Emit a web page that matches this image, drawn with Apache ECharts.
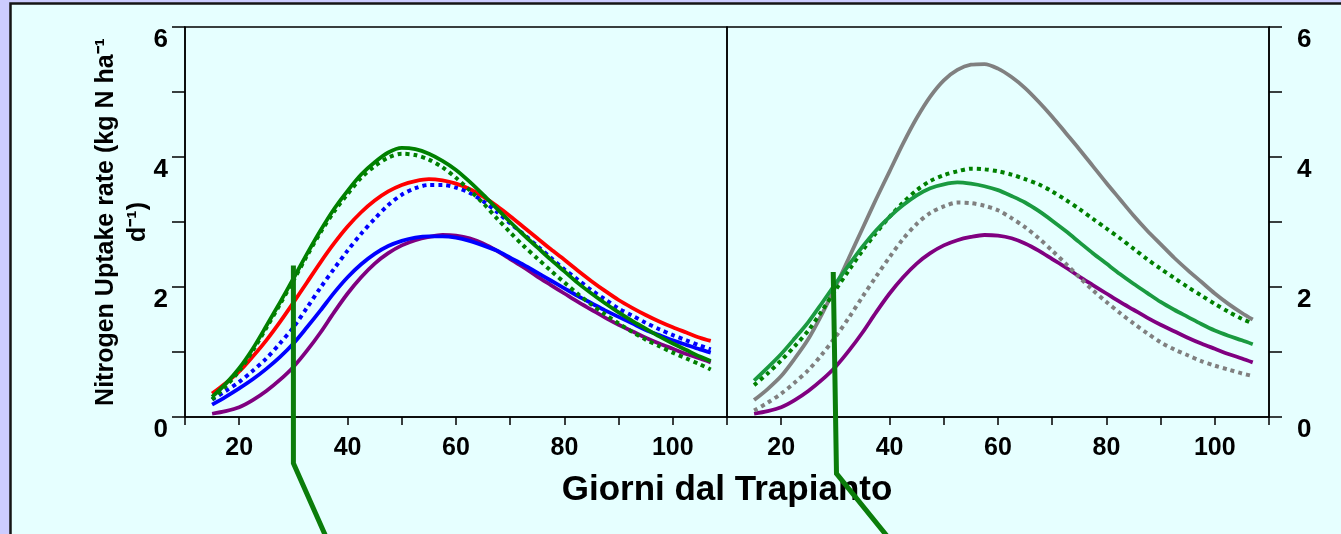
<!DOCTYPE html>
<html><head><meta charset="utf-8">
<script src="https://cdn.jsdelivr.net/npm/echarts@6/dist/echarts.min.js"></script>
<style>html,body{margin:0;padding:0;background:#ccccff}#c{width:1341px;height:534px}</style>
</head><body><div id="c"></div>
<script>
// ---- data ----
const days = [15,17.5,20,22.5,25,27.5,30,32.5,35,37.5,40,42.5,45,47.5,50,52.5,55,57.5,60,62.5,
              65,67.5,70,72.5,75,77.5,80,82.5,85,87.5,90,92.5,95,97.5,100,102.5,105,107];

// left panel
const leftGreenSolid  = [0.31,0.51,0.75,1.05,1.40,1.76,2.13,2.51,2.87,3.20,3.48,3.73,3.92,4.07,4.14,4.12,4.05,3.94,3.80,3.62,
                         3.42,3.21,3.00,2.80,2.61,2.42,2.24,2.06,1.90,1.75,1.61,1.48,1.36,1.24,1.13,1.03,0.93,0.86];
const leftGreenDotted = [0.27,0.47,0.71,1.02,1.37,1.73,2.10,2.48,2.84,3.16,3.43,3.68,3.86,3.99,4.05,4.03,3.96,3.84,3.68,3.49,
                         3.29,3.06,2.84,2.63,2.44,2.25,2.07,1.89,1.73,1.58,1.44,1.31,1.19,1.09,0.99,0.90,0.81,0.73];
const leftRed         = [0.36,0.52,0.70,0.93,1.18,1.46,1.76,2.07,2.38,2.67,2.93,3.15,3.33,3.47,3.57,3.63,3.66,3.64,3.59,3.51,
                         3.39,3.25,3.09,2.92,2.75,2.58,2.42,2.25,2.09,1.94,1.80,1.68,1.57,1.47,1.38,1.30,1.22,1.17];
const leftBlueDotted  = [0.27,0.40,0.54,0.71,0.90,1.13,1.38,1.68,1.99,2.28,2.56,2.82,3.05,3.26,3.42,3.52,3.57,3.57,3.53,3.45,
                         3.32,3.16,2.98,2.81,2.63,2.45,2.27,2.11,1.95,1.81,1.67,1.56,1.45,1.35,1.26,1.18,1.10,1.04];
const leftBlueSolid   = [0.19,0.31,0.44,0.58,0.74,0.92,1.13,1.38,1.64,1.91,2.15,2.35,2.51,2.63,2.71,2.76,2.78,2.78,2.76,2.71,
                         2.64,2.56,2.45,2.34,2.22,2.10,1.98,1.86,1.75,1.64,1.54,1.44,1.34,1.26,1.18,1.11,1.04,0.99];
const purple          = [0.05,0.09,0.15,0.26,0.40,0.57,0.77,1.02,1.30,1.61,1.90,2.15,2.36,2.52,2.64,2.72,2.77,2.80,2.79,2.75,
                         2.67,2.56,2.43,2.30,2.16,2.03,1.90,1.77,1.65,1.53,1.42,1.32,1.22,1.13,1.05,0.97,0.90,0.84];

// right panel
const rightGraySolid   = [0.26,0.43,0.63,0.90,1.20,1.58,2.00,2.45,2.90,3.35,3.78,4.21,4.60,4.93,5.18,5.34,5.42,5.43,5.36,5.23,
                          5.06,4.85,4.62,4.37,4.12,3.86,3.60,3.35,3.10,2.87,2.66,2.45,2.26,2.08,1.90,1.74,1.60,1.50];
const rightGreenSolid  = [0.56,0.76,0.97,1.21,1.46,1.75,2.05,2.34,2.62,2.87,3.08,3.26,3.41,3.52,3.58,3.61,3.59,3.55,3.49,3.40,
                          3.30,3.17,3.02,2.86,2.69,2.52,2.36,2.20,2.05,1.91,1.77,1.65,1.54,1.43,1.33,1.25,1.18,1.12];
const rightGreenDotted = [0.49,0.67,0.87,1.09,1.33,1.63,1.95,2.26,2.56,2.83,3.08,3.30,3.49,3.63,3.72,3.78,3.82,3.81,3.78,3.73,
                          3.66,3.58,3.47,3.34,3.20,3.05,2.90,2.75,2.59,2.43,2.28,2.14,2.00,1.87,1.74,1.62,1.51,1.44];
const rightGrayDotted  = [0.10,0.22,0.36,0.53,0.72,0.96,1.23,1.53,1.85,2.16,2.46,2.74,2.97,3.14,3.24,3.30,3.29,3.25,3.18,3.06,
                          2.92,2.75,2.56,2.36,2.15,1.95,1.77,1.60,1.44,1.29,1.15,1.04,0.95,0.86,0.79,0.73,0.67,0.63];

// pointer lines (data coordinates)
const pointerLeft  = [[30.0,2.33],[30.0,-0.71],[37.9,-2.2]];
const pointerRight = [[29.6,2.23],[30.2,-0.87],[43.1,-2.2]];

const xTickLabels = [20,40,60,80,100];
const yTickLabels = [0,2,4,6];
const xTitle = 'Giorni dal Trapianto';
const yTitle = 'Nitrogen Uptake rate (kg N ha\u207B\u00B9\nd\u207B\u00B9)';

// ---- chart ----
const FONT = 'Liberation Sans';
const zip = (xs, ys) => xs.map((x, i) => [x, ys[i]]);

function curve(name, grid, vals, color, dotted) {
  return {
    name, type: 'line', xAxisIndex: grid, yAxisIndex: grid,
    data: zip(days, vals), smooth: 0.3, showSymbol: false, symbol: 'none',
    lineStyle: { color, width: dotted ? 4 : 3.8, type: dotted ? [4, 4] : 'solid', cap: 'butt', join: 'round' },
    silent: true, animation: false
  };
}
function pointer(grid, pts) {
  return {
    type: 'line', xAxisIndex: grid, yAxisIndex: grid, data: pts, clip: false,
    showSymbol: false, symbol: 'none', z: 10,
    lineStyle: { color: '#0b7d0b', width: 5, cap: 'butt', join: 'miter' },
    silent: true, animation: false
  };
}
function xAxis(grid) {
  return {
    type: 'value', gridIndex: grid, min: 10, max: 110, interval: 10,
    axisLine: { show: true, onZero: false, lineStyle: { color: '#000', width: 1.5 } },
    axisTick: { show: true, length: 8, inside: false, lineStyle: { color: '#000', width: 1.5 } },
    splitLine: { show: false },
    axisLabel: {
      margin: 19, color: '#000', fontFamily: FONT, fontWeight: 'bold', fontSize: 25,
      formatter: v => xTickLabels.includes(v) ? String(v) : ''
    }
  };
}
function yAxis(grid, pos, margin) {
  return {
    type: 'value', gridIndex: grid, min: 0, max: 6, interval: 1, position: pos,
    axisLine: { show: true, lineStyle: { color: '#000', width: 1.5 } },
    axisTick: { show: true, length: 13, inside: false, lineStyle: { color: '#000', width: 1.5 } },
    splitLine: { show: false },
    axisLabel: {
      margin, color: '#000', fontFamily: FONT, fontWeight: 'bold', fontSize: 26,
      verticalAlign: 'top',
      formatter: v => yTickLabels.includes(v) ? String(v) : ''
    }
  };
}

const chart = echarts.init(document.getElementById('c'), null, { renderer: 'canvas' });
chart.setOption({
  backgroundColor: '#ccccff',
  animation: false,
  graphic: [
    { type: 'rect', z: -10, silent: true,
      shape: { x: 10.5, y: 3.5, width: 1400, height: 600 },
      style: { fill: '#e6ffff', stroke: '#151515', lineWidth: 2.5 } },
    { type: 'text', z: 5, silent: true, x: 727, y: 490,
      style: { text: xTitle, fill: '#000', font: 'bold 35px "Liberation Sans"', align: 'center', verticalAlign: 'middle' } },
    { type: 'text', z: 5, silent: true, x: 122, y: 222, rotation: Math.PI / 2,
      style: { text: yTitle, fill: '#000', font: 'bold 25px "Liberation Sans"', align: 'center', verticalAlign: 'middle', lineHeight: 32 } }
  ],
  grid: [
    { left: 185, top: 27, width: 542, height: 390, show: true, borderColor: '#000', borderWidth: 1.5, backgroundColor: 'transparent', containLabel: false },
    { left: 727, top: 27, width: 542, height: 390, show: true, borderColor: '#000', borderWidth: 1.5, backgroundColor: 'transparent', containLabel: false }
  ],
  xAxis: [xAxis(0), xAxis(1)],
  yAxis: [yAxis(0, 'left', 17), yAxis(1, 'right', 28)],
  series: [
    curve('Viola', 0, purple, '#800080', false),
    curve('Blu', 0, leftBlueSolid, '#0000ff', false),
    curve('Blu tratteggiato', 0, leftBlueDotted, '#0000ff', true),
    curve('Rosso', 0, leftRed, '#ff0000', false),
    curve('Verde tratteggiato', 0, leftGreenDotted, '#008000', true),
    curve('Verde', 0, leftGreenSolid, '#008000', false),
    curve('Viola 2', 1, purple, '#800080', false),
    curve('Grigio tratteggiato', 1, rightGrayDotted, '#808080', true),
    curve('Grigio', 1, rightGraySolid, '#808080', false),
    curve('Verde tratteggiato 2', 1, rightGreenDotted, '#008000', true),
    curve('Verde 2', 1, rightGreenSolid, '#1a9a40', false),
    pointer(0, pointerLeft),
    pointer(1, pointerRight)
  ]
});
</script>
</body></html>
